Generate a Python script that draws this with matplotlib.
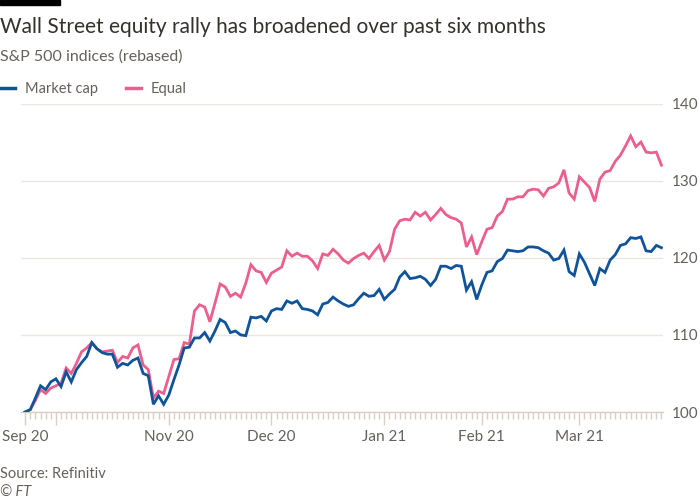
import matplotlib.pyplot as plt
from matplotlib.lines import Line2D

# trading-day index, 23 Sep 2020 .. 22 Mar 2021
market_cap = [
    100.0, 100.3, 101.8, 103.4, 102.9, 103.9, 104.3, 103.3, 105.2, 103.9,
    105.5, 106.4, 107.2, 109.0, 108.2, 107.7, 107.5, 107.5, 105.8, 106.3,
    106.1, 106.7, 107.0, 105.0, 104.7, 101.0, 102.1, 101.0, 102.2, 104.2,
    106.1, 108.3, 108.4, 109.6, 109.6, 110.3, 109.2, 110.5, 112.0, 111.6,
    110.3, 110.5, 110.0, 109.9, 112.3, 112.2, 112.4, 111.8, 113.1, 113.4,
    113.3, 114.4, 114.1, 114.4, 113.4, 113.3, 113.1, 112.6, 114.0, 114.2,
    114.9, 114.4, 114.0, 113.7, 113.9, 114.7, 115.4, 115.0, 115.1, 115.9,
    114.6, 115.3, 115.9, 117.5, 118.2, 117.3, 117.4, 117.6, 117.2, 116.4,
    117.2, 118.9, 118.9, 118.6, 119.0, 118.9, 115.8, 116.9, 114.6, 116.5,
    118.1, 118.3, 119.5, 119.9, 121.0, 120.9, 120.8, 120.9, 121.4, 121.4,
    121.3, 120.9, 120.6, 119.7, 119.9, 121.0, 118.2, 117.7, 120.5, 119.4,
    117.9, 116.4, 118.6, 118.1, 119.7, 120.4, 121.6, 121.8, 122.6, 122.5,
    122.7, 120.9, 120.8, 121.6, 121.3,
]
equal = [
    100.0, 100.3, 101.5, 102.9, 102.4, 103.1, 103.4, 103.7, 105.7, 105.0,
    106.3, 107.8, 108.3, 109.0, 108.2, 107.8, 107.9, 108.0, 106.4, 107.2,
    107.0, 108.3, 108.7, 106.1, 105.5, 101.8, 102.7, 102.4, 104.6, 106.8,
    106.9, 109.0, 108.8, 113.1, 113.9, 113.6, 111.7, 114.1, 116.6, 116.2,
    115.0, 115.4, 114.9, 116.7, 119.1, 118.3, 118.1, 116.8, 118.0, 118.4,
    118.8, 120.9, 120.2, 120.6, 120.2, 120.2, 119.6, 118.6, 120.5, 120.3,
    121.1, 120.5, 119.7, 119.3, 119.9, 120.3, 120.6, 119.9, 120.8, 121.6,
    119.7, 120.8, 123.7, 124.8, 125.0, 124.9, 125.9, 125.4, 125.9, 124.9,
    125.6, 126.4, 125.6, 125.2, 125.0, 124.5, 121.4, 122.7, 120.4, 122.1,
    123.7, 123.9, 125.4, 126.0, 127.6, 127.6, 127.9, 127.9, 128.7, 128.9,
    128.8, 128.0, 129.0, 129.2, 129.7, 131.4, 128.4, 127.6, 130.5, 129.8,
    129.1, 127.3, 130.2, 131.1, 131.3, 132.5, 133.3, 134.5, 135.8, 134.4,
    135.0, 133.7, 133.6, 133.7, 132.0,
]
days = list(range(len(market_cap)))

# first trading day of each month
month_ticks = [0, 6, 28, 48, 70, 89, 108]
month_labels = ['Sep 20', '', 'Nov 20', 'Dec 20', 'Jan 21', 'Feb 21', 'Mar 21']
y_ticks = [100, 110, 120, 130, 140]

BLUE = '#0f5499'
PINK = '#eb5f8f'
TEXT = '#33302e'
GREY = '#66605c'
GRID = '#ece6e0'
AXIS = '#d9cfc6'

plt.rcParams['font.family'] = ['Lato', 'DejaVu Sans']

fig = plt.figure(figsize=(7, 5), dpi=100)
fig.patch.set_facecolor('white')

ax = fig.add_axes([21 / 700, 1 - 412 / 500, 642 / 700, 308.5 / 500])
ax.plot(days, equal, color=PINK, lw=2.0, solid_joinstyle='miter', zorder=3)
ax.plot(days, market_cap, color=BLUE, lw=2.0, solid_joinstyle='miter', zorder=4)

ax.set_xlim(-0.8, 124.3)
ax.set_ylim(100, 140)
ax.set_yticks(y_ticks)
ax.yaxis.tick_right()
ax.tick_params(axis='y', length=0, pad=6, labelsize=11, labelcolor=GREY)
ax.grid(axis='y', color=GRID, lw=1, zorder=0)

ax.set_xticks(month_ticks)
ax.set_xticklabels(month_labels)
ax.set_xticks(days, minor=True)
ax.tick_params(axis='x', which='major', length=9, width=1, color=AXIS,
               pad=4, labelsize=11, labelcolor=GREY)
ax.tick_params(axis='x', which='minor', length=5, width=1, color=AXIS)

for side in ['top', 'left', 'right']:
    ax.spines[side].set_visible(False)
ax.spines['bottom'].set_color(AXIS)
ax.spines['bottom'].set_linewidth(1)
ax.spines['bottom'].set_zorder(2)

# header
fig.patches.append(plt.Rectangle((0, 1 - 5 / 500), 60 / 700, 5 / 500,
                                 transform=fig.transFigure, color='black'))
fig.text(0, 1 - 33 / 500, 'Wall Street equity rally has broadened over past six months',
         fontsize=15, color=TEXT)
fig.text(0, 1 - 61 / 500, 'S&P 500 indices (rebased)', fontsize=11.5, color=GREY)

handles = [Line2D([], [], color=BLUE, lw=2.5), Line2D([], [], color=PINK, lw=2.5)]
fig.legend(handles, ['Market cap', 'Equal'], loc='upper left',
           bbox_to_anchor=(-0.018, 1 - 69 / 500), ncol=2, frameon=False,
           handlelength=1.0, handletextpad=0.7, columnspacing=1.9,
           fontsize=10.5, labelcolor=GREY)

fig.text(0, 1 - 478 / 500, 'Source: Refinitiv', fontsize=10.5, color=GREY)
fig.text(0, 1 - 497 / 500, '© FT', fontsize=10.5, color=GREY, style='italic')

fig.savefig('out.png', dpi=100, facecolor='white')
